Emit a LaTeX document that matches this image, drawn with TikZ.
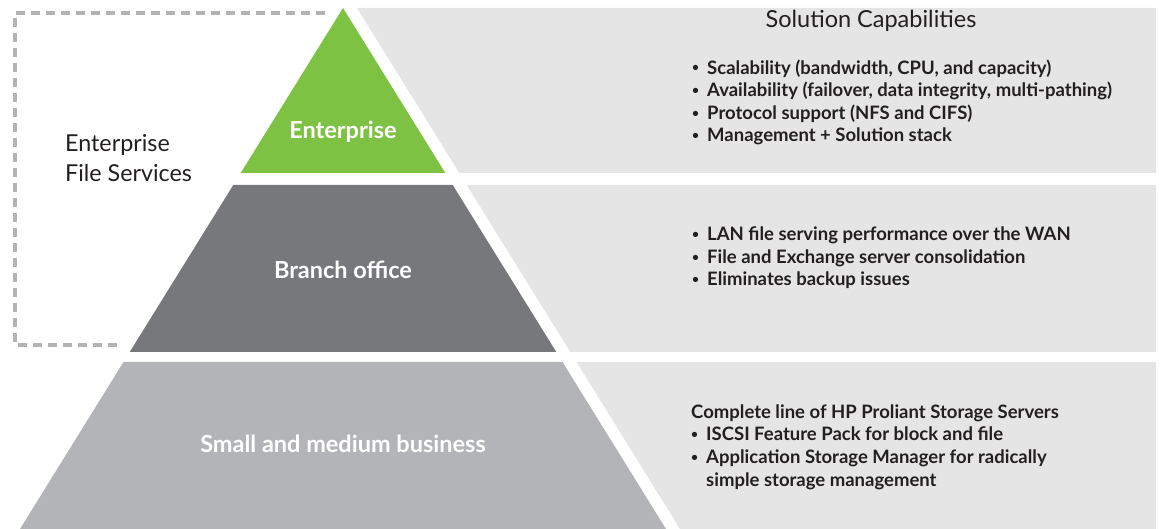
\documentclass[tikz,border=0pt]{standalone}
\usepackage{fontspec}
\setmainfont{Lato}
\definecolor{entgreen}{HTML}{7DC242}
\definecolor{branchgray}{HTML}{77787B}
\definecolor{smbgray}{HTML}{B3B4B7}
\definecolor{panelgray}{HTML}{E5E5E6}
\definecolor{framegray}{HTML}{B3B3B5}
\definecolor{textdark}{HTML}{231F20}
\newcommand{\capbullet}{\makebox[15pt][l]{\raisebox{0.12em}{\fontsize{12}{12}\selectfont\textbullet}}}

\begin{document}
\begin{tikzpicture}[x=1pt,y=-1pt,
	level/.style={text=white,font=\bfseries\fontsize{23.5}{28}\selectfont,anchor=base,inner sep=0pt},
	caps/.style={text=textdark,font=\bfseries\fontsize{18.5}{22.6}\selectfont,align=left,anchor=base west,inner sep=0pt},
	note/.style={text=textdark,font=\fontsize{23.3}{30}\selectfont,inner sep=0pt}]
			\useasboundingbox (0,0) rectangle (1160,529);
			\fill[panelgray] (357,8) -- (1156,8) -- (1156,173) -- (459.3,173) -- cycle;
			\fill[panelgray] (466.7,185) -- (1156,185) -- (1156,352) -- (570.3,352) -- cycle;
			\fill[panelgray] (576.5,362) -- (1156,362) -- (1156,529) -- (680,529) -- cycle;
			\fill[entgreen] (343,8) -- (445.3,173) -- (240.7,173) -- cycle;
			\fill[branchgray] (233.3,185) -- (452.7,185) -- (556.3,352) -- (129.7,352) -- cycle;
			\fill[smbgray] (123.5,362) -- (562.5,362) -- (666,529) -- (20,529) -- cycle;
			\draw[framegray,line width=4pt,dash pattern=on 9pt off 6pt] (325,13) -- (15,13) -- (15,345) -- (118,345);
			\node[level] (enterprise) at (343,139) {Enterprise};
			\node[level] (branch) at (343,279) {Branch office};
			\node[level] (smb) at (343,453) {Small and medium business};
			\node[note,anchor=base west,align=left] (efs) at (65,182) {Enterprise\\File Services};
			\node[note,anchor=base,font=\fontsize{23.5}{28}\selectfont] (title) at (871,28) {Solution Capabilities};
			\node[caps] (entcaps) at (692,142) {\capbullet Scalability (bandwidth, CPU, and capacity)\\
				\capbullet Availability (failover, data integrity, multi-pathing)\\
				\capbullet Protocol support (NFS and CIFS)\\
				\capbullet Management + Solution stack};
			\node[caps] (branchcaps) at (692,286) {\capbullet LAN file serving performance over the WAN\\
				\capbullet File and Exchange server consolidation\\
				\capbullet Eliminates backup issues};
			\node[caps] (smbcaps) at (691,486) {Complete line of HP Proliant Storage Servers\\
				\capbullet ISCSI Feature Pack for block and file\\
				\capbullet Application Storage Manager for radically\\
				\phantom{\capbullet}simple storage management};
\end{tikzpicture}
\end{document}
